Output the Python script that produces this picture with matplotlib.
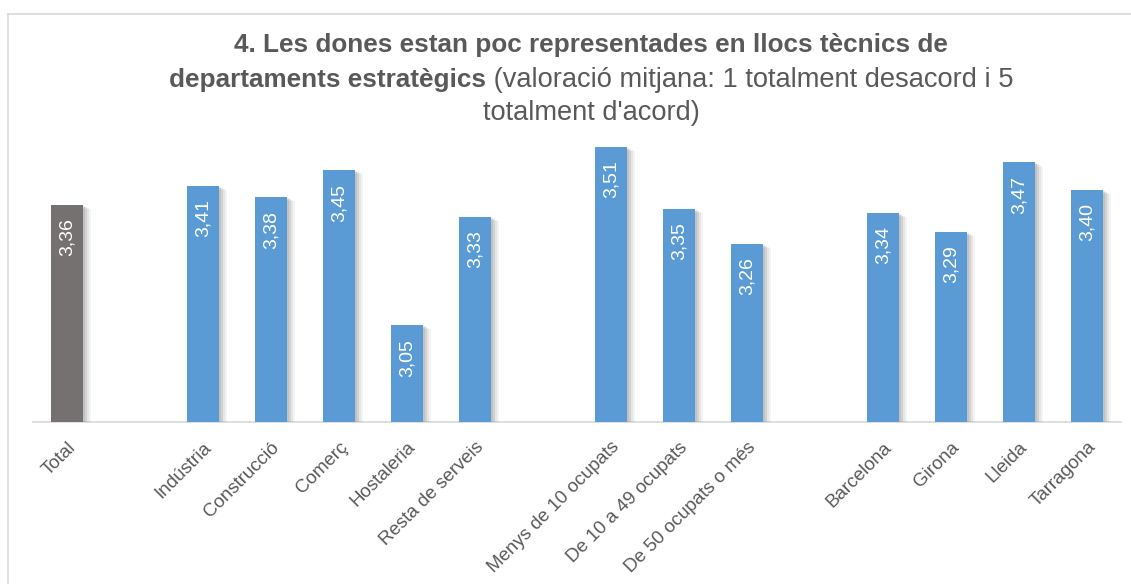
import matplotlib
matplotlib.use("Agg")
import matplotlib.pyplot as plt
import matplotlib.patheffects as pe
from matplotlib.lines import Line2D

# categories with blank separators between the groups
labels = ["Total", "", "Indústria", "Construcció", "Comerç", "Hostaleria",
          "Resta de serveis", "", "Menys de 10 ocupats", "De 10 a 49 ocupats",
          "De 50 ocupats o més", "", "Barcelona", "Girona", "Lleida", "Tarragona"]
values = [3.36, None, 3.41, 3.38, 3.45, 3.05, 3.33, None,
          3.51, 3.35, 3.26, None, 3.34, 3.29, 3.47, 3.40]
colors = ["#767171"] + ["#5B9BD5"] * 15

title_bold_1 = "4. Les dones estan poc representades en llocs tècnics de"
title_bold_2 = "departaments estratègics"
title_norm_2 = " (valoració mitjana: 1 totalment desacord i 5"
title_norm_3 = "totalment d'acord)"

FONT = ["Liberation Sans", "DejaVu Sans"]
TXT = "#595959"

fig = plt.figure(figsize=(11.31, 5.84), dpi=100)
ax = fig.add_axes([33 / 1131, 162 / 584, 1088 / 1131, 310 / 584])

# soft drop shadow built from a few stacked offsets
shadow = [pe.SimplePatchShadow(offset=(d, -d / 2), alpha=a,
                               shadow_rgbFace="#7f7f7f")
          for d, a in [(6, 0.08), (4.5, 0.12), (3, 0.18), (1.5, 0.2)]]

ymin = 2.8
for i, (v, c) in enumerate(zip(values, colors)):
    if v is None:
        continue
    ax.bar(i, v - ymin, bottom=ymin, width=0.47, color=c, zorder=3,
           path_effects=shadow + [pe.Normal()])
    ax.text(i, v - 0.035, f"{v:.2f}".replace(".", ","), rotation=90,
            ha="center", va="top", color="white", fontsize=14,
            family=FONT, zorder=4)

ax.set_xlim(-0.5, 15.5)
ax.set_ylim(ymin, 3.6)
ax.set_yticks([])
ax.set_xticks(range(len(labels)))
ax.set_xticklabels(labels, rotation=45, ha="right", rotation_mode="anchor",
                   fontsize=13.5, color=TXT, family=FONT)
ax.tick_params(axis="x", length=0, pad=12)
for s in ["top", "right", "left"]:
    ax.spines[s].set_visible(False)
ax.spines["bottom"].set_color("#D9D9D9")
ax.spines["bottom"].set_linewidth(1.2)

# chart area border (top and left edges visible)
fig.add_artist(Line2D([8 / 1131, 8 / 1131], [0, 1 - 14 / 584],
                      color="#D9D9D9", lw=1.2))
fig.add_artist(Line2D([8 / 1131, 1], [1 - 14 / 584, 1 - 14 / 584],
                      color="#D9D9D9", lw=1.2))

# title: bold first line, mixed bold/regular second line, regular third line
cx = 591 / 1131
fig.text(cx, 1 - 45 / 584, title_bold_1, ha="center", va="center",
         fontsize=18.8, fontweight="bold", color=TXT, family=FONT)
t_b = fig.text(0, 1 - 80 / 584, title_bold_2, ha="left", va="center",
               fontsize=18.8, fontweight="bold", color=TXT, family=FONT)
t_n = fig.text(0, 1 - 80 / 584, title_norm_2, ha="left", va="center",
               fontsize=19.6, color=TXT, family=FONT)
fig.text(cx, 1 - 113 / 584, title_norm_3, ha="center", va="center",
         fontsize=19.6, color=TXT, family=FONT)

fig.canvas.draw()
r = fig.canvas.get_renderer()
wb = t_b.get_window_extent(r).width / fig.bbox.width
wn = t_n.get_window_extent(r).width / fig.bbox.width
x0 = cx - (wb + wn) / 2
t_b.set_x(x0)
t_n.set_x(x0 + wb)

fig.savefig("out.png", dpi=100)
